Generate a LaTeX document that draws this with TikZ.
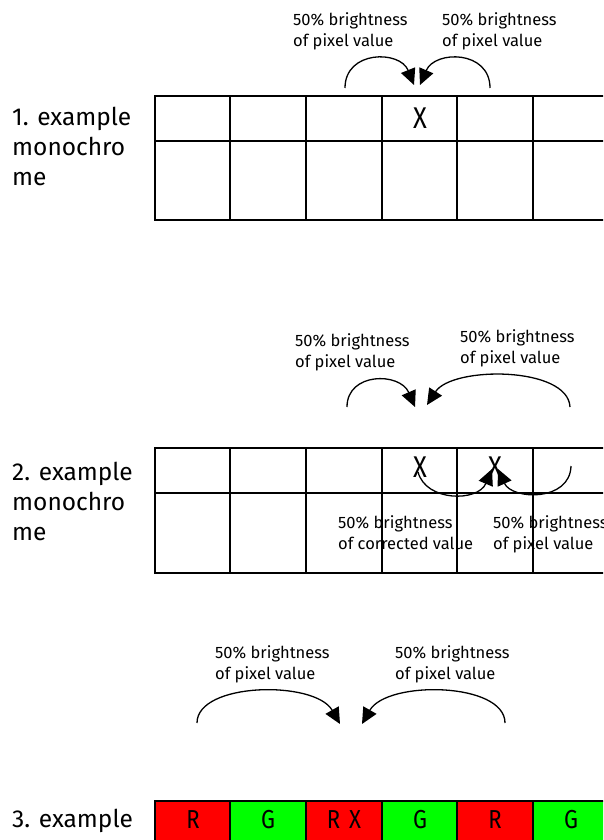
\documentclass[tikz,border=0pt]{standalone}
\usepackage{fontspec}
\setmainfont{Fira Sans}
\newfontfamily\cellfont[FakeStretch=0.85]{Fira Sans}
\usetikzlibrary{arrows.meta}
\definecolor{pxred}{RGB}{255,0,0}
\definecolor{pxgreen}{RGB}{0,255,0}
\tikzset{
  gridline/.style={line width=2pt},
  biglabel/.style={inner sep=0pt, anchor=base west, align=left, font=\fontsize{24.5}{30}\selectfont},
  smalllabel/.style={inner sep=0pt, anchor=base west, align=left, font=\fontsize{16.5}{21}\selectfont},
  cellmark/.style={inner sep=0pt, font=\cellfont\fontsize{30}{30}\selectfont},
  rgbmark/.style={inner sep=0pt, font=\cellfont\fontsize{26}{26}\selectfont},
  curvearrow/.style={line width=1.3pt, -{Triangle[length=16pt,width=15pt]}},
}
\begin{document}
\begin{tikzpicture}[x=1pt,y=-1pt]
\useasboundingbox (0,0) rectangle (603,840);
\clip (0,0) rectangle (603,840);

% ---------- example 1 ----------
\draw[gridline] (630,96) -- (155,96) -- (155,220) -- (630,220);
\draw[gridline] (155,141) -- (630,141);
\foreach \cx in {230,306,382,457,533} \draw[gridline] (\cx,96) -- (\cx,220);
\node[biglabel] (l1) at (12,185) {1. example\\monochro\\me};
\node[cellmark] (x1) at (420,118) {X};
\node[smalllabel] (t1a) at (293,47) {50\% brightness\\of pixel value};
\node[smalllabel] (t1b) at (442,47) {50\% brightness\\of pixel value};
\coordinate (a1s) at (345,88);
\coordinate (a1e) at (414,85);
\coordinate (b1s) at (490,88);
\coordinate (b1e) at (420,85);
\draw[curvearrow] (a1s) .. controls (345,50) and (400,50) .. (a1e);
\draw[curvearrow] (b1s) .. controls (490,50) and (435,50) .. (b1e);

% ---------- example 2 ----------
\draw[gridline] (630,448) -- (155,448) -- (155,573) -- (630,573);
\draw[gridline] (155,493) -- (630,493);
\foreach \cx in {230,306,382,457,533} \draw[gridline] (\cx,448) -- (\cx,573);
\node[biglabel] (l2) at (12,540) {2. example\\monochro\\me};
\node[cellmark] (x2) at (420,467) {X};
\node[cellmark] (x3) at (495,467) {X};
\node[smalllabel] (t2a) at (295,367) {50\% brightness\\of pixel value};
\node[smalllabel] (t2b) at (460,363) {50\% brightness\\of pixel value};
\node[smalllabel] (t2c) at (338,549) {50\% brightness\\of corrected value};
\node[smalllabel] (t2d) at (493,549) {50\% brightness\\of pixel value};
\coordinate (a2s) at (347,407);
\coordinate (a2e) at (415,407);
\coordinate (b2s) at (570,407);
\coordinate (b2e) at (427,405);
\draw[curvearrow] (a2s) .. controls (347,372) and (400,372) .. (a2e);
\draw[curvearrow] (b2s) .. controls (568,366) and (452,366) .. (b2e);
\coordinate (c2s) at (418,472);
\coordinate (c2e) at (492,469);
\coordinate (d2s) at (571,466);
\coordinate (d2e) at (498,469);
\draw[curvearrow] (c2s) .. controls (426,502) and (478,502) .. (c2e);
\draw[curvearrow] (d2s) .. controls (570,502) and (512,500) .. (d2e);

% ---------- example 3 ----------
\node[smalllabel] (t3a) at (215,679) {50\% brightness\\of pixel value};
\node[smalllabel] (t3b) at (395,679) {50\% brightness\\of pixel value};
\coordinate (a3s) at (197,723);
\coordinate (a3e) at (340,724);
\coordinate (b3s) at (505,723);
\coordinate (b3e) at (362,724);
\draw[curvearrow] (a3s) .. controls (197,682) and (315,680) .. (a3e);
\draw[curvearrow] (b3s) .. controls (505,682) and (387,680) .. (b3e);
\node[biglabel] (l3) at (12,827) {3. example};
\foreach \cx/\col/\txt [count=\i] in {155/pxred/R,230/pxgreen/G,306/pxred/{R\hspace{9pt}X},382/pxgreen/G,457/pxred/R,533/pxgreen/G}{
  \draw[gridline, fill=\col] (\cx,801) rectangle ++(76,60);
  \node[rgbmark] (c\i) at (\cx+38,820) {\txt};
}
\end{tikzpicture}
\end{document}
